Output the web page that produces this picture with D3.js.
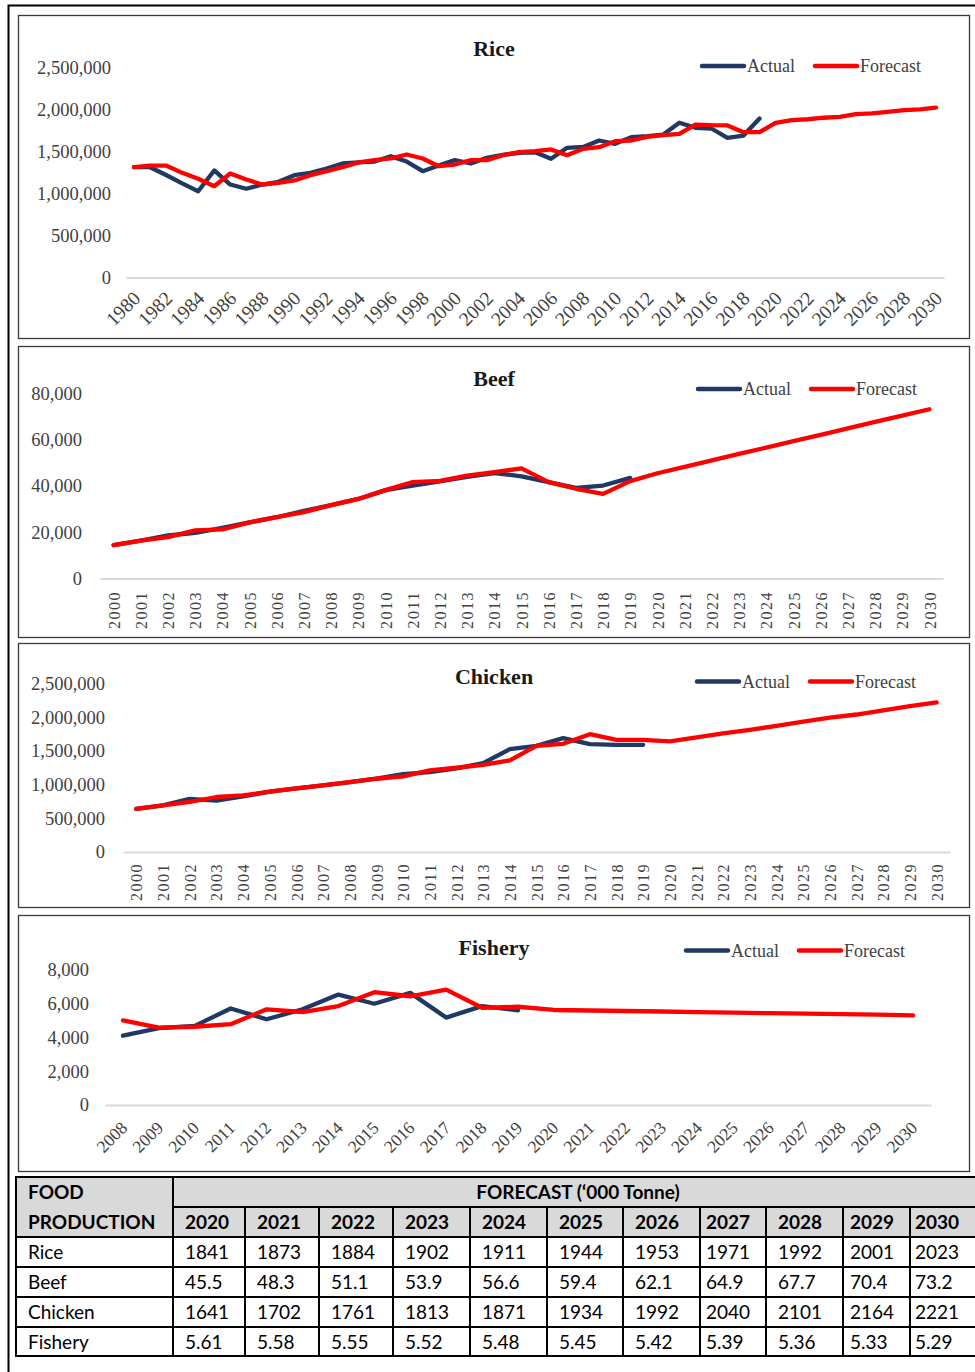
<!DOCTYPE html>
<html>
<head>
<meta charset="utf-8">
<script src="https://cdn.jsdelivr.net/npm/d3@7"></script>
<style>
  html, body { margin: 0; padding: 0; background: #fff; }
  svg { display: block; }
</style>
</head>
<body>
<svg id="fig" width="975" height="1372"></svg>
<script>
// ---------- Data ----------
// Category years for each chart
const riceYears    = d3.range(1980, 2031);
const beefYears    = d3.range(2000, 2031);
const chickenYears = d3.range(2000, 2031);
const fisheryYears = d3.range(2008, 2031);

// Forecast table, '000 tonne
const forecastYears = [2020, 2021, 2022, 2023, 2024, 2025, 2026, 2027, 2028, 2029, 2030];
const riceTable    = [1841, 1873, 1884, 1902, 1911, 1944, 1953, 1971, 1992, 2001, 2023];
const beefTable    = [45.5, 48.3, 51.1, 53.9, 56.6, 59.4, 62.1, 64.9, 67.7, 70.4, 73.2];
const chickenTable = [1641, 1702, 1761, 1813, 1871, 1934, 1992, 2040, 2101, 2164, 2221];
const fisheryTable = [5.61, 5.58, 5.55, 5.52, 5.48, 5.45, 5.42, 5.39, 5.36, 5.33, 5.29];

// Rice, tonne: observed 1980-2019 and fitted 1980-2019
const riceActual = [1313000, 1313000, 1220000, 1120000, 1027000, 1274000, 1107000, 1056000, 1107000, 1139000,
                    1218000, 1246000, 1297000, 1357000, 1370000, 1380000, 1444000, 1380000, 1266000, 1333000,
                    1397000, 1357000, 1425000, 1460000, 1484000, 1490000, 1413000, 1544000, 1555000, 1631000,
                    1591000, 1671000, 1683000, 1702000, 1842000, 1782000, 1774000, 1663000, 1690000, 1893000];
const riceFitted = [1313000, 1333000, 1333000, 1246000, 1175000, 1087000, 1238000, 1167000, 1107000, 1127000,
                    1155000, 1218000, 1266000, 1313000, 1370000, 1397000, 1417000, 1464000, 1417000, 1325000,
                    1345000, 1397000, 1397000, 1456000, 1492000, 1504000, 1524000, 1456000, 1532000, 1551000,
                    1623000, 1631000, 1675000, 1694000, 1710000, 1821000, 1813000, 1810000, 1730000, 1730000];

// Beef, tonne: 2000-2019
const beefActual = [14400, 16400, 18600, 19700, 21900, 24300, 26500, 29300, 31700, 34400,
                    38200, 40200, 42000, 43900, 45600, 44200, 41700, 39200, 40200, 43500];
const beefFitted = [14400, 16400, 17900, 20800, 21200, 24300, 26500, 28700, 31700, 34400,
                    38200, 41700, 42200, 44500, 46000, 47600, 41700, 38800, 36600, 42100];

// Chicken, tonne: 2000-2019
const chickenActual = [639000, 692000, 787000, 762000, 825000, 895000, 944000, 989000, 1038000, 1087000,
                       1156000, 1185000, 1240000, 1319000, 1526000, 1575000, 1689000, 1600000, 1590000, 1590000];
const chickenFitted = [639000, 692000, 742000, 816000, 840000, 895000, 944000, 989000, 1038000, 1087000,
                       1122000, 1210000, 1250000, 1294000, 1358000, 1575000, 1605000, 1748000, 1664000, 1664000];

// Fishery, tonne: 2008-2019
const fisheryActual = [4090, 4540, 4670, 5700, 5060, 5650, 6520, 5980, 6620, 5160, 5840, 5590];
const fisheryFitted = [5000, 4570, 4620, 4770, 5650, 5490, 5840, 6660, 6420, 6810, 5740, 5800];

// Value-axis tick labels
const riceTicks    = [0, 500000, 1000000, 1500000, 2000000, 2500000];
const beefTicks    = [0, 20000, 40000, 60000, 80000];
const chickenTicks = [0, 500000, 1000000, 1500000, 2000000, 2500000];
const fisheryTicks = [0, 2000, 4000, 6000, 8000];

const seriesNames = ["Actual", "Forecast"];
const tableRowNames = ["Rice", "Beef", "Chicken", "Fishery"];

// ---------- Drawing ----------
const svg = d3.select("#fig");
const serif = "'Liberation Serif', 'Times New Roman', serif";
const sans = "Lato, 'Open Sans', sans-serif";
const actualColor = "#1f3864";
const forecastColor = "#ff0000";
const labelColor = "#404040";

svg.append("rect").attr("width", 975).attr("height", 1372).attr("fill", "#fff");

// outer frame
svg.append("path")
  .attr("d", "M8.5,1372V5.5H975")
  .attr("fill", "none").attr("stroke", "#000").attr("stroke-width", 2);

function drawChart(cfg) {
  const g = svg.append("g");
  g.append("rect")
    .attr("x", cfg.panel[0] + 0.5).attr("y", cfg.panel[1] + 0.5)
    .attr("width", cfg.panel[2]).attr("height", cfg.panel[3])
    .attr("fill", "#fff").attr("stroke", "#3a3a3a").attr("stroke-width", 1.3);

  const x = d3.scalePoint().domain(cfg.years).range(cfg.xRange).padding(0.5);
  const y = d3.scaleLinear().domain([0, d3.max(cfg.ticks)]).range(cfg.yRange);

  // value axis labels
  const yAxis = d3.axisLeft(y).tickValues(cfg.ticks).tickSize(0).tickPadding(0)
    .tickFormat(d3.format(","));
  const ya = g.append("g").attr("transform", `translate(${cfg.labelRight},0)`).call(yAxis);
  ya.select(".domain").remove();
  ya.selectAll(".tick text")
    .attr("font-family", serif).attr("font-size", 18.5).attr("fill", labelColor);

  // category axis
  const shown = cfg.years.filter((d, i) => i % cfg.every === 0);
  const xAxis = d3.axisBottom(x).tickValues(shown).tickSize(0).tickSizeOuter(0)
    .tickFormat(d3.format("d"));
  const xa = g.append("g").attr("transform", `translate(0,${cfg.yRange[0]})`).call(xAxis);
  xa.select(".domain").attr("stroke", "#d9d9d9").attr("stroke-width", 2);
  const xt = xa.selectAll(".tick text")
    .attr("font-family", serif).attr("fill", labelColor)
    .attr("x", 0).attr("y", 0).attr("text-anchor", "end");
  if (cfg.labelMode === "diag") {
    xt.attr("font-size", cfg.xFont).attr("dy", 0)
      .attr("transform", `translate(${cfg.labelShift[0]},${cfg.labelShift[1]}) rotate(-45)`);
  } else {
    xt.attr("font-size", cfg.xFont).attr("dy", "0.35em").attr("letter-spacing", 1.5)
      .attr("transform", `translate(0,${cfg.labelShift[1]}) rotate(-90)`);
  }

  // series
  const line = d3.line().x(d => x(d.year)).y(d => y(d.value));
  const actual = cfg.actual.map((v, i) => ({ year: cfg.years[i], value: v }));
  const forecastValues = cfg.fitted.concat(cfg.table.map(v => v * 1000));
  const forecast = forecastValues.map((v, i) => ({ year: cfg.years[i], value: v }));

  g.append("path").datum(actual).attr("d", line)
    .attr("fill", "none").attr("stroke", actualColor).attr("stroke-width", 4.3)
    .attr("stroke-linejoin", "round").attr("stroke-linecap", "round");
  g.append("path").datum(forecast).attr("d", line)
    .attr("fill", "none").attr("stroke", forecastColor).attr("stroke-width", 4.3)
    .attr("stroke-linejoin", "round").attr("stroke-linecap", "round");

  // title
  g.append("text").attr("x", 494).attr("y", cfg.titleY + 7.5)
    .attr("text-anchor", "middle").attr("font-family", serif)
    .attr("font-weight", "bold").attr("font-size", 22).attr("fill", "#1a1a1a")
    .text(cfg.title);

  // legend
  const lg = g.append("g").attr("transform", `translate(${cfg.legend[0]},${cfg.legend[1]})`);
  [actualColor, forecastColor].forEach((c, i) => {
    const ox = i * 113;
    lg.append("line").attr("x1", ox + 2).attr("x2", ox + 44).attr("y1", 0).attr("y2", 0)
      .attr("stroke", c).attr("stroke-width", 4.5).attr("stroke-linecap", "round");
    lg.append("text").attr("x", ox + 47).attr("y", 6)
      .attr("font-family", serif).attr("font-size", 18).attr("fill", labelColor)
      .text(seriesNames[i]);
  });
}

drawChart({
  title: "Rice", years: riceYears, actual: riceActual, fitted: riceFitted, table: riceTable,
  ticks: riceTicks, panel: [18, 15, 951, 323], titleY: 48, legend: [700, 66],
  yRange: [277.5, 67.5], labelRight: 111, xRange: [126, 944],
  every: 2, labelMode: "diag", xFont: 19.5, labelShift: [7, 22]
});
drawChart({
  title: "Beef", years: beefYears, actual: beefActual, fitted: beefFitted, table: beefTable,
  ticks: beefTicks, panel: [18, 346, 951, 291], titleY: 378, legend: [696, 389],
  yRange: [578.5, 393.5], labelRight: 82, xRange: [100, 943],
  every: 1, labelMode: "vert", xFont: 16, labelShift: [0, 12.5]
});
drawChart({
  title: "Chicken", years: chickenYears, actual: chickenActual, fitted: chickenFitted, table: chickenTable,
  ticks: chickenTicks, panel: [18, 643, 951, 264], titleY: 676.5, legend: [695, 681.5],
  yRange: [852, 683.5], labelRight: 105, xRange: [123, 950],
  every: 1, labelMode: "vert", xFont: 16, labelShift: [0, 11]
});
drawChart({
  title: "Fishery", years: fisheryYears, actual: fisheryActual, fitted: fisheryFitted, table: fisheryTable,
  ticks: fisheryTicks, panel: [18, 915, 951, 256], titleY: 947.5, legend: [684, 950.5],
  yRange: [1105, 969.5], labelRight: 89, xRange: [105, 931],
  every: 1, labelMode: "diag", xFont: 17.5, labelShift: [5, 24]
});

// ---------- Forecast table ----------
const colX = [16, 173, 245, 319, 393, 470, 547, 623, 700, 766, 843, 910, 982];
const rowY = [1177, 1207, 1237, 1267, 1297, 1327, 1356];
const tg = svg.append("g").attr("font-family", sans).attr("font-size", 19).attr("fill", "#000");

tg.append("rect").attr("x", colX[0]).attr("y", rowY[0])
  .attr("width", colX[12] - colX[0]).attr("height", rowY[2] - rowY[0]).attr("fill", "#d9d9d9");

const grid = [];
grid.push([colX[0], rowY[0], colX[12], rowY[0]]);
grid.push([colX[1], rowY[1], colX[12], rowY[1]]);
for (let r = 2; r < rowY.length; r++) grid.push([colX[0], rowY[r], colX[12], rowY[r]]);
grid.push([colX[0], rowY[0], colX[0], rowY[6]]);
grid.push([colX[1], rowY[0], colX[1], rowY[6]]);
for (let c = 2; c < colX.length; c++) grid.push([colX[c], rowY[1], colX[c], rowY[6]]);
tg.selectAll("line.grid").data(grid).join("line").attr("class", "grid")
  .attr("x1", d => d[0]).attr("y1", d => d[1]).attr("x2", d => d[2]).attr("y2", d => d[3])
  .attr("stroke", "#000").attr("stroke-width", 2).attr("stroke-linecap", "square");

// cell text: left-aligned with padding, pulled in for the narrow right-hand cells
const cellX = i => Math.min(colX[i + 1] + 12, Math.min(colX[i + 2], 975) - 60);
const mid = r => (rowY[r] + rowY[r + 1]) / 2 + 7;
tg.append("text").attr("x", colX[0] + 12).attr("y", mid(0)).attr("font-weight", "bold").text("FOOD");
tg.append("text").attr("x", colX[0] + 12).attr("y", mid(1)).attr("font-weight", "bold").text("PRODUCTION");
tg.append("text").attr("x", (colX[1] + 983) / 2).attr("y", mid(0)).attr("text-anchor", "middle")
  .attr("font-weight", "bold").text("FORECAST (\u2018000 Tonne)");
tg.selectAll("text.yr").data(forecastYears).join("text").attr("class", "yr")
  .attr("x", (d, i) => cellX(i)).attr("y", mid(1))
  .attr("font-weight", "bold").text(d => d);

const tableRows = [riceTable, beefTable, chickenTable, fisheryTable];
tableRows.forEach((vals, r) => {
  tg.append("text").attr("x", colX[0] + 12).attr("y", mid(r + 2)).text(tableRowNames[r]);
  tg.selectAll(null).data(vals).join("text")
    .attr("x", (d, i) => cellX(i)).attr("y", mid(r + 2))
    .text(d => d);
});
</script>
</body>
</html>
